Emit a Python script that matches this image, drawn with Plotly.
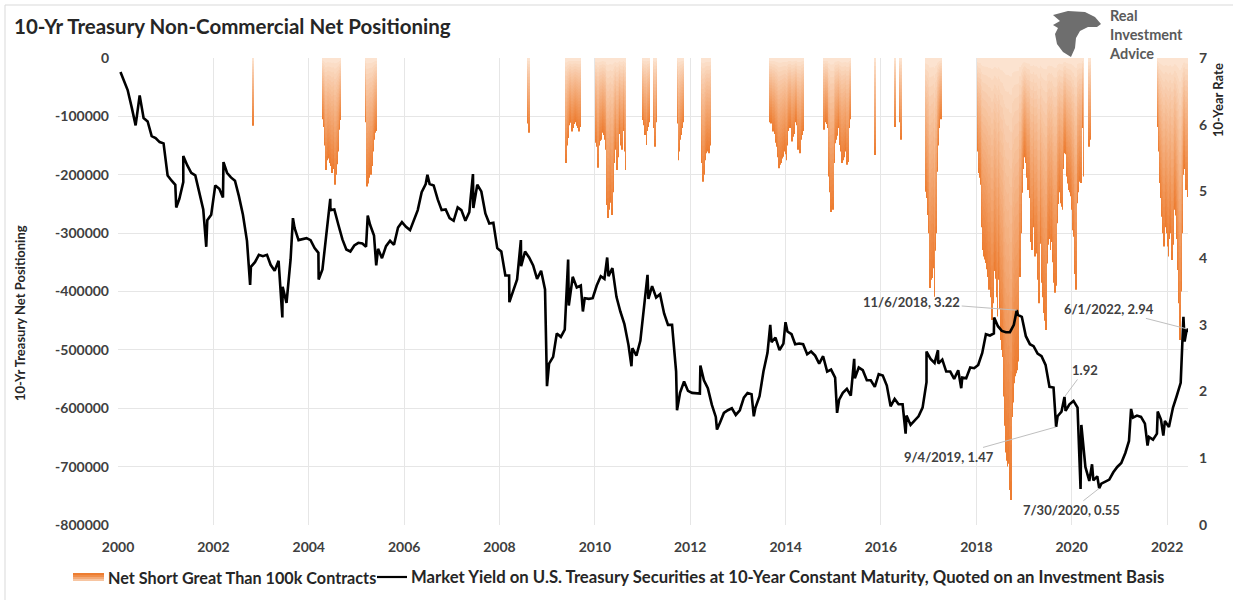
import plotly.graph_objects as go
import pandas as pd

# ---------------- DATA ----------------
# 10-year Treasury yield: monthly readings from Jan 2000 to May 2022
yield_start = "2000-01-15"
yield_monthly = [
    6.66, 6.52, 6.26, 5.99, 6.44, 6.10, 6.05, 5.83, 5.80, 5.74, 5.72, 5.24,
    5.16, 5.10, 4.89, 5.14, 5.39, 5.28, 5.24, 4.97, 4.73, 4.57, 4.65, 5.09,
    5.04, 4.91, 5.28, 5.21, 5.16, 4.93, 4.65, 4.26, 3.87, 3.94, 4.05, 4.03,
    4.05, 3.90, 3.81, 3.96, 3.57, 3.33, 3.98, 4.45, 4.27, 4.29, 4.30, 4.27,
    4.15, 4.08, 3.83, 4.35, 4.72, 4.73, 4.50, 4.28, 4.13, 4.10, 4.19, 4.23,
    4.22, 4.17, 4.50, 4.34, 4.14, 4.00, 4.18, 4.26, 4.20, 4.46, 4.54, 4.47,
    4.42, 4.57, 4.72, 4.99, 5.11, 5.11, 5.09, 4.88, 4.72, 4.73, 4.60, 4.56,
    4.76, 4.72, 4.56, 4.69, 4.75, 5.10, 5.00, 4.67, 4.52, 4.53, 4.15, 4.10,
    3.74, 3.74, 3.51, 3.68, 3.88, 4.10, 4.01, 3.89, 3.69, 3.81, 3.53, 2.42,
    2.52, 2.87, 2.82, 2.93, 3.29, 3.72, 3.56, 3.59, 3.40, 3.39, 3.40, 3.59,
    3.73, 3.69, 3.73, 3.85, 3.42, 3.20, 3.01, 2.70, 2.65, 2.54, 2.76, 3.29,
    3.39, 3.58, 3.41, 3.46, 3.17, 3.00, 3.00, 2.30, 1.98, 2.15, 2.01, 1.98,
    1.97, 1.97, 2.17, 2.05, 1.80, 1.62, 1.53, 1.68, 1.72, 1.75, 1.65, 1.72,
    1.91, 1.98, 1.96, 1.76, 1.93, 2.30, 2.58, 2.74, 2.81, 2.62, 2.72, 2.90,
    2.86, 2.71, 2.72, 2.71, 2.56, 2.60, 2.54, 2.42, 2.53, 2.30, 2.33, 2.21,
    1.88, 1.98, 2.04, 1.94, 2.20, 2.36, 2.32, 2.17, 2.17, 2.07, 2.26, 2.24,
    2.09, 1.78, 1.89, 1.81, 1.81, 1.64, 1.50, 1.56, 1.63, 1.76, 2.14, 2.49,
    2.43, 2.42, 2.48, 2.30, 2.30, 2.19, 2.32, 2.21, 2.20, 2.36, 2.35, 2.40,
    2.58, 2.86, 2.84, 2.87, 2.98, 2.91, 2.89, 2.89, 3.00, 3.15, 3.12, 2.83,
    2.71, 2.68, 2.57, 2.53, 2.40, 2.07, 2.06, 1.63, 1.70, 1.71, 1.81, 1.86,
    1.76, 1.50, 0.87, 0.66, 0.67, 0.73, 0.62, 0.65, 0.68, 0.79, 0.87, 0.93,
    1.08, 1.26, 1.61, 1.64, 1.62, 1.52, 1.32, 1.28, 1.37, 1.58, 1.56, 1.47,
    1.76, 1.93, 2.13, 2.75, 2.90,
]
# daily highs / lows
yield_daily_dates = [
    "2000-01-20", "2001-03-22", "2001-05-15", "2001-11-07", "2002-03-19",
    "2002-10-09", "2003-06-13", "2003-09-02", "2004-03-17", "2004-06-14",
    "2005-03-28", "2005-06-01", "2006-06-28", "2007-06-12", "2008-03-17",
    "2008-06-13", "2008-12-30", "2009-06-10", "2009-10-01", "2010-04-05",
    "2010-10-08", "2011-02-08", "2011-09-22", "2012-03-19", "2012-07-24",
    "2013-05-02", "2013-09-05", "2013-12-31", "2015-01-30", "2015-06-10",
    "2016-07-08", "2016-12-15", "2017-03-13", "2017-09-07", "2018-05-17",
    "2018-11-06", "2019-09-04", "2019-11-07", "2020-03-09", "2020-06-05",
    "2020-07-30", "2021-03-31", "2021-08-04", "2021-10-21", "2021-12-03",
    "2022-05-06", "2022-06-01",
]
yield_daily_values = [
    6.79, 4.76, 5.53, 4.17, 5.44,
    3.60, 3.11, 4.60, 3.68, 4.89,
    4.64, 3.89, 5.25, 5.26, 3.34,
    4.27, 2.08, 3.98, 3.20, 4.01,
    2.38, 3.75, 1.72, 2.39, 1.43,
    1.63, 3.00, 3.04, 1.68, 2.49,
    1.37, 2.60, 2.62, 2.05, 3.11,
    3.22, 1.47, 1.92, 0.54, 0.91,
    0.55, 1.74, 1.19, 1.70, 1.34,
    3.12, 2.94,
]

# Weekly non-commercial net positions (only weeks net short > 100k contracts)
short_2002_start, short_2002 = "2002-10-29", [-116000]
short_2004_start, short_2004 = "2004-04-20", [
    -105000, -118000, -150000, -192000, -175000, -168000, -172000, -180000, -165000, -185000,
    -197000, -178000, -190000, -217000, -200000, -182000, -160000, -123000, -110000, -106000]
short_2005_start, short_2005 = "2005-03-15", [
    -110000, -220000, -215000, -205000, -200000, -195000, -200000, -185000, -160000, -140000,
    -128000, -125000]
short_2008_start, short_2008 = "2008-08-05", [-112000, -128000]
short_2009_start, short_2009 = "2009-05-26", [
    -180000, -150000, -137000, -115000, -108000, -111000, -126000, -118000, -120000, -113000,
    -110000, -108000, -116000, -120000, -126000, -118000]
short_2010_start, short_2010 = "2010-01-05", [
    -140000, -145000, -152000, -188000, -150000, -142000, -140000, -128000, -125000, -132000,
    -140000, -157000, -200000, -252000, -274000, -260000, -240000, -248000, -269000, -230000,
    -180000, -157000, -150000, -165000, -192000, -170000, -130000, -120000, -150000, -157000,
    -125000, -115000, -160000, -192000]
short_2011a_start, short_2011a = "2011-01-04", [
    -106000, -115000, -132000, -120000, -149000, -125000, -118000, -110000, None, None,
    None, None, -120000, -152000, -110000]
short_2011b_start, short_2011b = "2011-09-27", [
    -112000, -175000, -160000, -140000, -132000, -120000, -110000]
short_2012_start, short_2012 = "2012-03-27", [
    -160000, -180000, -212000, -200000, -175000, -163000, -155000, -160000, -163000, -150000]
short_2013_start, short_2013 = "2013-09-03", [
    -110000, -112000, -108000, -126000, -118000, -130000, -138000, -145000, -152000, -170000,
    -189000, -183000, -180000, -172000, -169000, -160000, -158000, -165000, -175000, -150000,
    -125000, -120000, -118000, -120000, -143000, -135000, -130000, -103000, -110000, -115000,
    -140000, -157000, -150000, -163000, -140000, -132000, -125000]
short_2014_start, short_2014 = "2014-10-21", [
    -123000, -110000, -105000, -113000, -120000, -146000, -203000, -230000, -264000, -255000,
    -260000, -180000, -146000, -140000, -133000, -123000, -120000, -118000, -149000, -160000,
    -180000, -175000, -170000, -160000, -152000, -183000, -178000, -150000, -120000, -105000]
short_2015_start, short_2015 = "2015-11-17", [-166000]
short_2016_start, short_2016 = "2016-04-19", [-118000, None, None, None, None, -110000, -140000]
short_2017_start, short_2017 = "2016-12-13", [
    -229000, -240000, -269000, -300000, -394000, -380000, -377000, -346000, -360000, -409000,
    -330000, -300000, -195000, -150000, -120000, -101000, -105000]
short_2018_start, short_2018 = "2018-01-09", [
    -120000, -160000, -197000, -205000, -217000, -290000, -329000, -340000, -345000, -351000,
    -362000, -375000, -385000, -397000, -380000, -410000, -449000, -420000, -355000, -365000,
    -378000, -410000, -443000, -380000, -355000, -430000, -483000, -500000, -512000, -580000,
    -630000, -676000, -690000, -700000, -695000, -690000, -740000, -757000, -615000, -590000,
    -557000, -545000, -540000, -535000, -520000, -294000, -330000, -375000, -300000, -231000,
    -190000, -157000, -170000, -180000, -205000, -226000, -169000, -240000, -306000, -315000,
    -329000, -290000, -272000, -340000, -335000, -329000, -380000, -420000, -360000, -318000,
    -350000, -385000, -410000, -437000, -450000, -466000, -352000, -320000, -294000, -310000,
    -329000, -315000, -306000, -350000, -385000, -402000, -390000, -283000, -250000, -214000,
    -230000, -249000, -255000, -260000, -190000, -163000, -128000, -165000, -203000, -215000,
    -226000, -230000, -237000, -260000, -283000, -295000, -306000, -370000, -397000, -249000,
    -230000, -209000, -212000, -214000, -170000, -120000, -203000]
short_2020_start, short_2020 = "2020-05-12", [-152000, -140000]
short_2021_start, short_2021 = "2021-10-26", [
    -118000, -160000, -214000, -240000, -272000, -300000, -323000, -290000, -277000, -300000,
    -323000, -340000, -310000, -280000, -300000, -346000, -320000, -260000, -250000, -270000,
    -310000, -363000, -380000, -420000, -483000, -400000, -300000, -200000, -150000, -190000,
    -226000, -140000, -238000]

x_tick_years = [2000, 2002, 2004, 2006, 2008, 2010, 2012, 2014, 2016, 2018, 2020, 2022]
left_tick_vals = [0, -100000, -200000, -300000, -400000, -500000, -600000, -700000, -800000]
left_tick_text = ["0", "-100000", "-200000", "-300000", "-400000", "-500000", "-600000", "-700000", "-800000"]
right_tick_vals = [0, 1, 2, 3, 4, 5, 6, 7]

bars_label = "Net Short Great Than 100k Contracts"
line_label = "Market Yield on U.S. Treasury Securities at 10-Year Constant Maturity, Quoted on an Investment Basis"

callouts = [  # (date, yield, text, ax, ay)
    ("2018-11-06", 3.22, "11/6/2018, 3.22", -105, -8),
    ("2022-06-01", 2.94, "6/1/2022, 2.94", -78, -20),
    ("2019-11-07", 1.92, "1.92", 20, -27),
    ("2019-09-04", 1.47, "9/4/2019, 1.47", -107, 30),
    ("2020-07-30", 0.55, "7/30/2020, 0.55", -28, 22),
]

# ---------------- BUILD ----------------
clusters = [
    (short_2002_start, short_2002), (short_2004_start, short_2004), (short_2005_start, short_2005),
    (short_2008_start, short_2008), (short_2009_start, short_2009), (short_2010_start, short_2010),
    (short_2011a_start, short_2011a), (short_2011b_start, short_2011b), (short_2012_start, short_2012),
    (short_2013_start, short_2013), (short_2014_start, short_2014), (short_2015_start, short_2015),
    (short_2016_start, short_2016), (short_2017_start, short_2017), (short_2018_start, short_2018),
    (short_2020_start, short_2020), (short_2021_start, short_2021),
]
bar_x, bar_y = [], []
for start, vals in clusters:
    dates = pd.date_range(start, periods=len(vals), freq="7D")
    for d, v in zip(dates, vals):
        if v is not None:
            bar_x.append(d)
            bar_y.append(v)

ydates = list(pd.date_range(yield_start, periods=len(yield_monthly), freq="MS") + pd.Timedelta(days=14))
line_df = pd.DataFrame({
    "date": ydates + list(pd.to_datetime(yield_daily_dates)),
    "val": yield_monthly + yield_daily_values,
}).sort_values("date")

fig = go.Figure()

FONT = "Lato"
light = (253, 236, 222)
dark = (237, 125, 49)
def grad(t):
    return "rgb(%d,%d,%d)" % tuple(round(light[i] + (dark[i] - light[i]) * t) for i in range(3))

N = 24
bar_w = 6 * 86400000
for k in range(N):
    frac = (N - k) / N
    fig.add_trace(go.Bar(
        x=bar_x, y=[v * frac for v in bar_y], width=bar_w,
        marker=dict(color=grad(frac ** 0.8), line=dict(width=0)),
        name=bars_label, showlegend=False, hoverinfo="skip",
    ))

fig.add_trace(go.Scatter(
    x=line_df["date"], y=line_df["val"], yaxis="y2", mode="lines",
    line=dict(color="black", width=2.6), name=line_label, showlegend=False,
))

PL, PR, PT, PB = 118, 1188, 58, 525
W, H = 1233, 600
def px(x):
    return (x - PL) / (PR - PL)
def py(y):
    return (PB - y) / (PB - PT)

annotations = []
for d, v, txt, ax, ay in callouts:
    annotations.append(dict(
        x=d, y=v, xref="x", yref="y2", text=txt, showarrow=True, arrowhead=0,
        arrowwidth=1, arrowcolor="#BFBFBF", ax=ax, ay=ay,
        font=dict(family=FONT, size=13, color="#404040", weight="bold"),
    ))
annotations.append(dict(
    x=px(12), y=py(26), xref="paper", yref="paper",
    text="10-Yr Treasury Non-Commercial Net Positioning", showarrow=False,
    xanchor="left", yanchor="middle",
    font=dict(family=FONT, size=20.5, color="#262626", weight="bold"),
))
annotations.append(dict(
    x=px(20), y=py(313), xref="paper", yref="paper", text="10-Yr Treasury Net Positioning",
    textangle=-90, showarrow=False, xanchor="center", yanchor="middle",
    font=dict(family=FONT, size=13, color="#262626", weight="bold"),
))
annotations.append(dict(
    x=px(1218), y=py(100), xref="paper", yref="paper", text="10-Year Rate",
    textangle=-90, showarrow=False, xanchor="center", yanchor="middle",
    font=dict(family=FONT, size=13, color="#262626", weight="bold"),
))
annotations.append(dict(
    x=px(1107), y=py(34), xref="paper", yref="paper", text="Real<br>Investment<br>Advice",
    showarrow=False, xanchor="left", yanchor="middle", align="left",
    font=dict(family=FONT, size=14.5, color="#5a5a5a", weight="bold"),
))
# legend texts
annotations.append(dict(
    x=px(106), y=py(577), xref="paper", yref="paper", text=bars_label, showarrow=False,
    xanchor="left", yanchor="middle",
    font=dict(family=FONT, size=16.2, color="#262626", weight="bold"),
))
annotations.append(dict(
    x=px(409), y=py(577), xref="paper", yref="paper", text=line_label, showarrow=False,
    xanchor="left", yanchor="middle",
    font=dict(family=FONT, size=16.7, color="#262626", weight="bold"),
))

def path(points):
    s = "M %f %f " % (px(points[0][0]), py(points[0][1]))
    for p in points[1:]:
        s += "L %f %f " % (px(p[0]), py(p[1]))
    return s + "Z"

eagle = [(1053, 15), (1068, 11), (1085, 12), (1095, 17), (1101, 24), (1097, 27),
         (1088, 27), (1080, 31), (1076, 38), (1075, 48), (1071, 57), (1063, 52),
         (1057, 44), (1055, 34), (1058, 28), (1053, 25), (1060, 21)]
shapes = [
    dict(type="path", xref="paper", yref="paper", path=path(eagle),
         fillcolor="#6e6e6e", line=dict(width=0)),
    dict(type="line", xref="paper", yref="paper", x0=px(5), x1=px(1233), y0=py(5), y1=py(5),
         line=dict(color="#D9D9D9", width=1)),
    dict(type="line", xref="paper", yref="paper", x0=px(5), x1=px(5), y0=py(5), y1=py(600),
         line=dict(color="#D9D9D9", width=1)),
    # legend line swatch
    dict(type="line", xref="paper", yref="paper", x0=px(377), x1=px(407), y0=py(577), y1=py(577),
         line=dict(color="black", width=2.2)),
]
# legend gradient swatch (dark on top, light underneath)
for i, t in enumerate([1.0, 0.85, 0.6, 0.35]):
    shapes.append(dict(type="rect", xref="paper", yref="paper",
                       x0=px(73), x1=px(104), y0=py(573 + 2 * i), y1=py(575 + 2 * i),
                       fillcolor=grad(t), line=dict(width=0)))

fig.update_layout(
    width=W, height=H,
    margin=dict(l=PL, r=W - PR, t=PT, b=H - PB, autoexpand=False),
    paper_bgcolor="white", plot_bgcolor="white",
    barmode="overlay", showlegend=False,
    xaxis=dict(type="date", range=["2000-01-01", "2022-06-10"],
               tickvals=["%d-01-01" % y for y in x_tick_years], ticktext=[str(y) for y in x_tick_years],
               showgrid=True, gridcolor="#E6E6E6", gridwidth=1, zeroline=False, showline=False,
               ticks="", ticklabelstandoff=12,
               tickfont=dict(family=FONT, size=14, color="#404040", weight="bold")),
    yaxis=dict(range=[-800000, 0], tickvals=left_tick_vals, ticktext=left_tick_text,
               showgrid=True, gridcolor="#E6E6E6", gridwidth=1, zeroline=False, showline=False,
               ticks="", ticklabelstandoff=8,
               tickfont=dict(family=FONT, size=14, color="#404040", weight="bold")),
    yaxis2=dict(range=[0, 7], tickvals=right_tick_vals, overlaying="y", side="right",
                showgrid=False, zeroline=False, showline=False, ticks="", ticklabelstandoff=10,
                tickfont=dict(family=FONT, size=14, color="#404040", weight="bold")),
    annotations=annotations,
    shapes=shapes,
)

fig.write_html("out.html", config={"displayModeBar": False},
               post_script="document.body.style.margin='0px';")
